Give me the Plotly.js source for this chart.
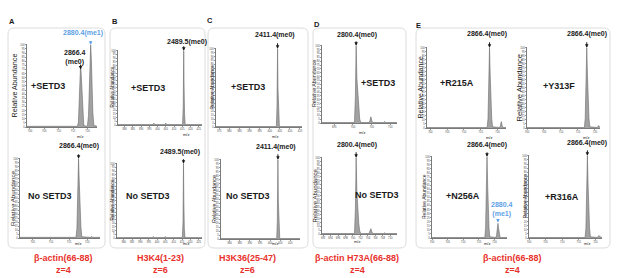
<!DOCTYPE html>
<html><head><meta charset="utf-8">
<script src="https://cdn.plot.ly/plotly-3.0.1.min.js"></script>
<style>html,body{margin:0;padding:0;background:#fff}#c{width:617px;height:278px}</style>
</head><body><div id="c"></div>
<script>
// ---------- DATA (m/z vs relative abundance) ----------
const aSetd3Mz  = [699, 716.5, 716.85, 717.1, 717.35, 717.6, 717.85, 718.1, 718.35, 718.7, 719.6, 720.0, 720.35, 720.6, 720.85, 721.1, 721.35, 721.6, 721.85, 722.2, 723.3];
const aSetd3Int = [0.8, 0.8, 6, 25, 50, 76, 62, 38, 16, 2, 0.8, 2, 14, 42, 74, 100, 82, 48, 18, 2, 0.8];
const aNoMz  = [701.5, 716.9, 717.15, 717.35, 717.6, 717.8, 718.0, 718.25, 718.5, 721.0, 721.2, 721.4, 723.5];
const aNoInt = [0.8, 0.8, 12, 50, 100, 70, 38, 14, 1.5, 0.8, 2, 0.8, 0.8];

const bSetd3Mz  = [376, 397.3, 397.8, 398.3, 404.5, 405.0, 405.5, 415.2, 415.6, 415.9, 416.1, 416.4, 416.8, 427];
const bSetd3Int = [0.6, 0.6, 2.5, 0.6, 0.6, 2.5, 0.6, 0.6, 25, 100, 55, 15, 0.6, 0.6];
const bNoMz  = [376, 397.3, 397.8, 398.3, 404.5, 405.0, 405.5, 415.2, 415.6, 415.9, 416.1, 416.4, 416.8, 427];
const bNoInt = [0.6, 0.6, 2, 0.6, 0.6, 2, 0.6, 0.6, 22, 100, 50, 12, 0.6, 0.6];

const cSetd3Mz  = [373.4, 381.8, 382.2, 382.6, 391.8, 392.2, 392.6, 403.3, 403.6, 403.9, 404.1, 404.4, 404.8, 416];
const cSetd3Int = [0.6, 0.6, 1.5, 0.6, 0.6, 1.5, 0.6, 0.6, 25, 100, 50, 12, 0.6, 0.6];
const cNoMz  = [375.8, 391.8, 392.2, 392.6, 403.3, 403.6, 403.9, 404.1, 404.4, 404.8, 414.8];
const cNoInt = [0.6, 0.6, 1.2, 0.6, 0.6, 22, 100, 48, 10, 0.6, 0.6];

const dSetd3Mz  = [691.7, 700.4, 700.65, 700.85, 701.05, 701.3, 701.55, 701.8, 702.1, 704.3, 704.55, 704.8, 705.05, 705.3, 708.2, 708.5, 708.8, 711.8];
const dSetd3Int = [0.6, 0.6, 35, 100, 58, 34, 16, 5, 0.6, 0.6, 3, 8, 3, 0.6, 0.6, 2, 0.6, 0.6];
const dNoMz  = [691.7, 700.4, 700.65, 700.85, 701.05, 701.3, 701.55, 701.8, 702.1, 704.3, 704.55, 704.8, 705.05, 705.3, 708.2, 708.5, 708.8, 711.8];
const dNoInt = [0.6, 0.6, 32, 100, 55, 30, 14, 4, 0.6, 0.6, 3, 7, 3, 0.6, 0.6, 1.5, 0.6, 0.6];

const eR215AMz  = [699, 716.9, 717.15, 717.35, 717.6, 717.8, 718.0, 718.25, 718.5, 720.6, 720.85, 721.1, 721.35, 721.6, 722.5];
const eR215AInt = [0.6, 0.6, 12, 50, 100, 66, 34, 12, 1.5, 0.6, 3, 8, 3, 0.6, 0.6];
const eY313FMz  = [700, 716.9, 717.15, 717.35, 717.6, 717.8, 718.0, 718.25, 718.5, 720.7, 720.9, 721.1, 721.3, 721.5];
const eY313FInt = [0.6, 0.6, 12, 50, 100, 66, 34, 12, 1.5, 0.6, 2, 3, 2, 0.6];
const eN256AMz  = [700, 716.9, 717.15, 717.35, 717.6, 717.8, 718.0, 718.25, 718.5, 720.4, 720.65, 720.9, 721.1, 721.3, 721.55, 721.8, 724];
const eN256AInt = [0.6, 0.6, 12, 50, 100, 66, 34, 12, 1.5, 0.6, 3, 11, 18, 12, 5, 0.6, 0.6];
const eR316AMz  = [700, 716.9, 717.15, 717.35, 717.6, 717.8, 718.0, 718.25, 718.5, 720.6, 720.85, 721.1, 721.35, 722];
const eR316AInt = [0.6, 0.6, 12, 50, 100, 66, 34, 12, 1.5, 0.6, 2, 3, 1.5, 0.6];

const panelLetters = ['A', 'B', 'C', 'D', 'E'];
const peptideLabels = ['β-actin(66-88)', 'H3K4(1-23)', 'H3K36(25-47)', 'β-actin H73A(66-88)', 'β-actin(66-88)'];
const chargeLabels = ['z=4', 'z=6', 'z=6', 'z=4', 'z=4'];
const conditionLabels = ['+SETD3', 'No SETD3', '+SETD3', 'No SETD3', '+SETD3', 'No SETD3', '+SETD3', 'No SETD3', '+R215A', '+Y313F', '+N256A', '+R316A'];
const me0Labels = ['2866.4<br>(me0)', '2866.4(me0)', '2489.5(me0)', '2489.5(me0)', '2411.4(me0)', '2411.4(me0)', '2800.4(me0)', '2800.4(me0)', '2866.4(me0)', '2866.4(me0)', '2866.4(me0)', '2866.4(me0)'];
const me1Label = '2880.4(me1)';
const me1LabelShort = '2880.4<br>(me1)';
const me0Mz = [717.6, 717.6, 415.9, 415.9, 403.9, 403.9, 700.85, 700.85, 717.6, 717.6, 717.6, 717.6];
const me1Mz = 721.1;

// ---------- LAYOUT ----------
const W = 617, H = 278;
const fx = p => p / W, fy = p => 1 - p / H;

const series = [
  [aSetd3Mz, aSetd3Int], [aNoMz, aNoInt], [bSetd3Mz, bSetd3Int], [bNoMz, bNoInt],
  [cSetd3Mz, cSetd3Int], [cNoMz, cNoInt], [dSetd3Mz, dSetd3Int], [dNoMz, dNoInt],
  [eR215AMz, eR215AInt], [eY313FMz, eY313FInt], [eN256AMz, eN256AInt], [eR316AMz, eR316AInt]
];
// pixel geometry of each plot area: x0,x1,y0(top),y1(bottom); tick step; title size/offset
const geo = [
  {x:[27,97],  y:[44,127],  r:[699,723.3],   d:5, t:700, ts:7.2, to:13, cond:[48,86],  lab:[75,57], al:6, mzy:9.5},
  {x:[20,100], y:[158,238], r:[701.5,723.5], d:5, t:705, ts:6.2, to:8,  cond:[50,196], lab:[79,146], al:6, mzy:9.5},
  {x:[118,202],y:[50,125],  r:[376,427],     d:5, t:380, ts:4.6, to:6,  cond:[148,88], lab:[187,42], al:6, mzy:9.5},
  {x:[117,202],y:[163,238], r:[376,427],     d:5, t:380, ts:4.6, to:5,  cond:[148,196],lab:[180,152], al:6, mzy:9.5},
  {x:[216,302],y:[48,127],  r:[373.4,416],   d:5, t:375, ts:5.0, to:5,  cond:[248,87], lab:[275,35], al:7, mzy:9.5},
  {x:[221,300],y:[159,239], r:[375.8,414.8], d:5, t:380, ts:5.4, to:7,  cond:[248,196],lab:[276,147], al:7, mzy:9},
  {x:[322,397],y:[45,123],  r:[691.7,711.8], d:5, t:695, ts:5.3, to:8,  cond:[378,83], lab:[357,35], al:6, mzy:9.5},
  {x:[322,397],y:[157,234], r:[691.7,711.8], d:2, t:692, ts:6.0, to:8,  cond:[377,195],lab:[357,145], al:7, mzy:12},
  {x:[427,506],y:[47,128],  r:[699,722.5],   d:5, t:700, ts:7.0, to:7,  cond:[457,83], lab:[487,34], al:7, mzy:9.5},
  {x:[527,600],y:[47,128],  r:[700,721.5],   d:5, t:700, ts:7.6, to:8,  cond:[559,86], lab:[587,34], al:7, mzy:9.5},
  {x:[432,507],y:[156,238], r:[700,724],     d:5, t:700, ts:5.0, to:8,  cond:[463,196],lab:[487,145], al:6, mzy:9.5},
  {x:[529,602],y:[155,238], r:[700,722],     d:5, t:700, ts:5.0, to:5,  cond:[562,197],lab:[587,143], al:7, mzy:9.5}
];
const boxes = [[8,105],[110,205],[208,308],[313,406],[416,610]];
const letterPos = [[12,22],[115,22],[210,21],[317,24],[418,25]];
const peptidePos = [63,160,247,357,512];

const FONT = 'Liberation Sans, Arial, Helvetica, sans-serif';
const RED = '#e8312c', BLUE = '#5d9fe6', INK = '#1a1a1a';

const traces = [];
const layout = {
  width: W, height: H, margin: {l:0, r:0, t:0, b:0},
  paper_bgcolor: '#fff', plot_bgcolor: 'rgba(0,0,0,0)', showlegend: false,
  font: {family: FONT, color: INK}, annotations: [], shapes: []
};

function txt(x, y, text, size, color, extra) {
  layout.annotations.push(Object.assign({
    xref: 'paper', yref: 'paper', x: fx(x), y: fy(y), text: text, showarrow: false,
    xanchor: 'center', yanchor: 'middle', font: {family: FONT, size: size, color: color || INK}
  }, extra || {}));
}
function arrow(n, x, y, len, color) {
  layout.annotations.push({
    xref: 'x' + (n === 1 ? '' : n), yref: 'y' + (n === 1 ? '' : n), x: x, y: y,
    ax: 0, ay: -len, text: '', showarrow: true, arrowhead: 2, arrowsize: 0.7,
    arrowwidth: 1, arrowcolor: color || INK
  });
}

// rounded boxes
function rrect(x0, y0, x1, y1, r) {
  const X = fx, Y = fy;
  return `M${X(x0+r)},${Y(y0)} L${X(x1-r)},${Y(y0)} Q${X(x1)},${Y(y0)} ${X(x1)},${Y(y0+r)} ` +
         `L${X(x1)},${Y(y1-r)} Q${X(x1)},${Y(y1)} ${X(x1-r)},${Y(y1)} L${X(x0+r)},${Y(y1)} ` +
         `Q${X(x0)},${Y(y1)} ${X(x0)},${Y(y1-r)} L${X(x0)},${Y(y0+r)} Q${X(x0)},${Y(y0)} ${X(x0+r)},${Y(y0)} Z`;
}
boxes.forEach(b => layout.shapes.push({type:'path', xref:'paper', yref:'paper', path: rrect(b[0], 28, b[1], 248, 6),
  line:{color:'#dcdcdc', width:1}, fillcolor:'rgba(0,0,0,0)', layer:'below'}));

series.forEach((s, i) => {
  const n = i + 1, g = geo[i];
  const xa = 'x' + (n === 1 ? '' : n), ya = 'y' + (n === 1 ? '' : n);
  traces.push({type:'scatter', mode:'lines', x: s[0], y: s[1], xaxis: xa, yaxis: ya,
    fill:'tozeroy', fillcolor:'#a2a2a2', line:{color:'#6a6a6a', width:0.6}, hoverinfo:'skip'});
  const common = {showgrid:false, zeroline:false, showline:true, linecolor:'#222', linewidth:0.6,
    ticks:'outside', ticklen:1.2, tickwidth:0.5, tickcolor:'#333', automargin:false,
    tickfont:{family:FONT, size:2.7, color:'#444'}, fixedrange:true};
  layout['xaxis' + (n === 1 ? '' : n)] = Object.assign({}, common, {
    domain:[fx(g.x[0]), fx(g.x[1])], range: g.r, anchor: ya, tick0: g.t, dtick: g.d});
  layout['yaxis' + (n === 1 ? '' : n)] = Object.assign({}, common, {
    domain:[fy(g.y[1]), fy(g.y[0])], range:[0, 101], anchor: xa, tick0: 0, dtick: 5});
  // axis titles
  txt(g.x[0] - g.to, (g.y[0] + g.y[1]) / 2, 'Relative Abundance', g.ts, INK, {textangle: -90});
  // "m/z" sits below the peak, between two tick labels
  const mzX = g.t + g.d * (Math.floor((me0Mz[i] - g.t) / g.d) + 0.5);
  layout.annotations.push({xref: xa, yref:'paper', x: mzX, y: fy(g.y[1] + g.mzy), text:'m/z',
    showarrow:false, font:{family:FONT, size:4, color:INK}});
  // labels
  txt(g.cond[0], g.cond[1], '<b>' + conditionLabels[i] + '</b>', 9, INK);
  txt(g.lab[0], g.lab[1], '<b>' + me0Labels[i] + '</b>', 7, INK);
  const tipY = (i === 0) ? 70 : 100;
  arrow(n, me0Mz[i], tipY, g.al);
});

// me1 labels
txt(83, 33, '<b>' + me1Label + '</b>', 7, BLUE);
arrow(1, me1Mz, 100, 5, BLUE);
txt(502, 209, '<b>' + me1LabelShort + '</b>', 7, BLUE);
arrow(11, me1Mz, 19, 4, BLUE);

// panel letters and peptide labels
panelLetters.forEach((L, k) => {
  txt(letterPos[k][0], letterPos[k][1], '<b>' + L + '</b>', 7.5, INK);
  txt(peptidePos[k], 258, '<b>' + peptideLabels[k] + '</b>', 9, RED);
  txt(peptidePos[k], 270, '<b>' + chargeLabels[k] + '</b>', 9, RED);
});

Plotly.newPlot('c', traces, layout, {staticPlot: true, displayModeBar: false});
</script></body></html>
